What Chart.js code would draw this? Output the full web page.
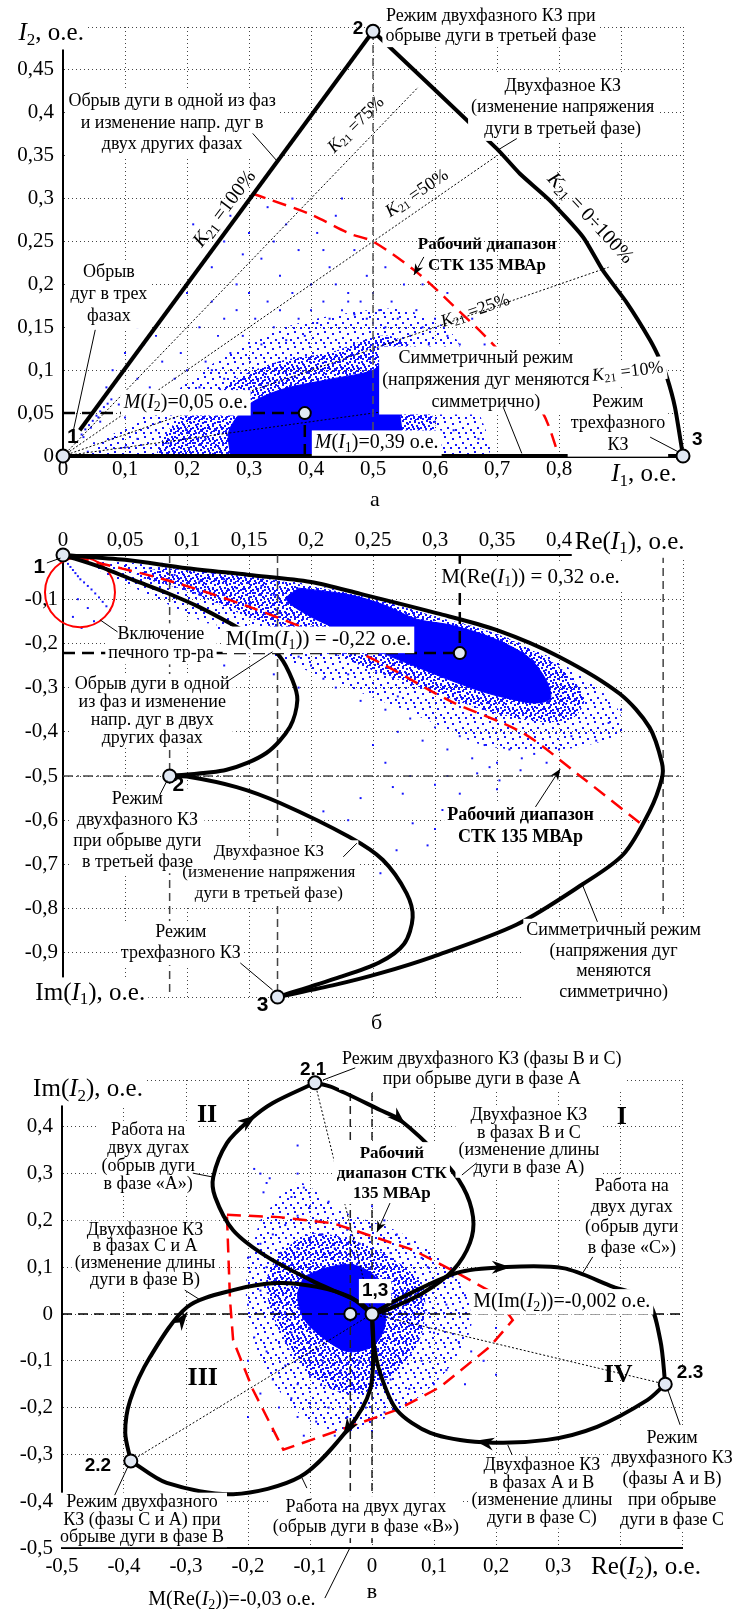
<!DOCTYPE html>
<html lang="ru">
<head>
<meta charset="UTF-8">
<title>Режимы работы ДСП: токи прямой и обратной последовательности</title>
<script src="https://cdn.jsdelivr.net/npm/chart.js@4"></script>
<style>
  html, body { margin: 0; padding: 0; background: #fff; }
  body { width: 733px; height: 1609px; position: relative; overflow: hidden; }
  canvas { position: absolute; left: 0; }
</style>
</head>
<body>
<canvas id="chartA" width="733" height="520" style="top:0"></canvas>
<canvas id="chartB" width="733" height="530" style="top:510px"></canvas>
<canvas id="chartC" width="733" height="579" style="top:1030px"></canvas>
<script>
// ---- panel а : I2 vs I1 ----
const aXTicks = ['0', '0,1', '0,2', '0,3', '0,4', '0,5', '0,6', '0,7', '0,8', '', ''];
const aYTicks = ['0', '0,05', '0,1', '0,15', '0,2', '0,25', '0,3', '0,35', '0,4', '0,45', ''];
const aK100 = [[0.027, 0.03], [0.5, 0.495]];
const aTwoPhase = [[0.5, 0.495], [0.7, 0.358], [0.737, 0.329], [0.785, 0.298], [0.839, 0.255], [0.871, 0.216], [0.91, 0.178], [0.947, 0.135], [0.963, 0.112], [0.974, 0.092], [0.987, 0.057], [1, 0]];
const aSym = [[0, 0], [1, 0]];
const aK75 = [[0, 0], [0.573, 0.43]];
const aK50 = [[0, 0], [0.7, 0.35]];
const aK25 = [[0, 0], [0.88, 0.22]];
const aK10 = [[0, 0], [0.97, 0.097]];
const aRange = [[0.305, 0.306], [0.329, 0.3], [0.398, 0.282], [0.463, 0.259], [0.5, 0.25], [0.571, 0.214], [0.624, 0.179], [0.705, 0.121], [0.774, 0.05], [0.8, 0]];
const aNodes = [[0, 0], [0.5, 0.495], [1, 0]];
const aMean = [[0.39, 0.05]];
const aMeanH = [[0, 0.05], [0.39, 0.05]];
const aMeanV = [[0.39, 0], [0.39, 0.05]];
const aGuide = [[0.5, 0], [0.5, 0.495]];
const aCore = [[0.27, 0], [0.268, 0.03], [0.3, 0.06], [0.355, 0.078], [0.435, 0.09], [0.5, 0.1], [0.525, 0.115], [0.54, 0.07], [0.535, 0]];
const aMid = [[0.15, 0], [0.17, 0.03], [0.22, 0.06], [0.28, 0.09], [0.35, 0.11], [0.43, 0.12], [0.52, 0.14], [0.57, 0.12], [0.59, 0.06], [0.6, 0]];
const aOuter = [[0.04, 0], [0.07, 0.02], [0.14, 0.05], [0.2, 0.085], [0.28, 0.125], [0.36, 0.15], [0.45, 0.165], [0.55, 0.17], [0.63, 0.14], [0.66, 0.07], [0.68, 0]];
const aDots = [
  [0.03, 0.025], [0.036, 0.031], [0.042, 0.036], [0.048, 0.041], [0.054, 0.047], [0.06, 0.052], [0.066, 0.057], [0.072, 0.061], [0.078, 0.066], [0.033, 0.022], [0.045, 0.033], [0.057, 0.045],
  [0.21, 0.27], [0.24, 0.22], [0.26, 0.25], [0.28, 0.2], [0.3, 0.26], [0.32, 0.23], [0.33, 0.29], [0.35, 0.21], [0.36, 0.27], [0.38, 0.24], [0.4, 0.2], [0.41, 0.26], [0.43, 0.22], [0.44, 0.28], [0.46, 0.19], [0.47, 0.24], [0.49, 0.21], [0.45, 0.3], [0.31, 0.305], [0.37, 0.3], [0.27, 0.28], [0.29, 0.235], [0.34, 0.25], [0.42, 0.24],
  [0.15, 0.14], [0.17, 0.17], [0.19, 0.12], [0.2, 0.19], [0.22, 0.15], [0.23, 0.11], [0.24, 0.18], [0.25, 0.14], [0.26, 0.16], [0.27, 0.12], [0.28, 0.17], [0.29, 0.14], [0.3, 0.19], [0.31, 0.16], [0.32, 0.13], [0.33, 0.18], [0.34, 0.15], [0.35, 0.17], [0.36, 0.135], [0.37, 0.19], [0.38, 0.16], [0.39, 0.14], [0.4, 0.17], [0.41, 0.155], [0.42, 0.18], [0.43, 0.16], [0.44, 0.2], [0.45, 0.17], [0.46, 0.18], [0.47, 0.165], [0.48, 0.18], [0.49, 0.16], [0.5, 0.19], [0.51, 0.17], [0.52, 0.15], [0.53, 0.18], [0.54, 0.16], [0.55, 0.2], [0.56, 0.14], [0.57, 0.17], [0.58, 0.15], [0.59, 0.13], [0.6, 0.16], [0.61, 0.12], [0.62, 0.14], [0.63, 0.1], [0.64, 0.13], [0.65, 0.09], [0.66, 0.12], [0.67, 0.1], [0.68, 0.13], [0.7, 0.11], [0.72, 0.12], [0.62, 0.19], [0.52, 0.22], [0.58, 0.2], [0.66, 0.16], [0.69, 0.08], [0.71, 0.06], [0.74, 0.09],
  [0.08, 0.1], [0.1, 0.12], [0.12, 0.09], [0.13, 0.13], [0.14, 0.08], [0.16, 0.11], [0.18, 0.09], [0.11, 0.07], [0.09, 0.06], [0.07, 0.08], [0.06, 0.04], [0.12, 0.15], [0.2, 0.1], [0.22, 0.08], [0.24, 0.1], [0.26, 0.09], [0.21, 0.06], [0.18, 0.05], [0.15, 0.03], [0.12, 0.02], [0.1, 0.01], [0.08, 0.02], [0.05, 0.015], [0.04, 0.005], [0.17, 0.015], [0.2, 0.03], [0.23, 0.02], [0.14, 0.06], [0.1, 0.045],
  [0.56, 0.1], [0.58, 0.08], [0.6, 0.1], [0.62, 0.06], [0.6, 0.04], [0.63, 0.03], [0.65, 0.05], [0.67, 0.02]
];

// ---- panel б : Im(I1) vs Re(I1) ----
const bXTicks = ['0', '0,05', '0,1', '0,15', '0,2', '0,25', '0,3', '0,35', '0,4', '', ''];
const bYTicks = ['', '-0,9', '-0,8', '-0,7', '-0,6', '-0,5', '-0,4', '-0,3', '-0,2', '-0,1', ''];
const bSym = [[0, 0], [0.05, -0.011], [0.1, -0.03], [0.15, -0.045], [0.2, -0.061], [0.24, -0.088], [0.302, -0.132], [0.35, -0.17], [0.4, -0.23], [0.449, -0.314], [0.473, -0.39], [0.483, -0.47], [0.483, -0.505], [0.473, -0.58], [0.452, -0.677], [0.419, -0.745], [0.366, -0.836], [0.298, -0.909], [0.256, -0.946], [0.22, -0.972], [0.173, -1]];
const bOpenArc = [[0, 0], [0.03, -0.027], [0.057, -0.057], [0.084, -0.086], [0.11, -0.118], [0.137, -0.158], [0.16, -0.195], [0.175, -0.23], [0.185, -0.283], [0.189, -0.328], [0.183, -0.389], [0.164, -0.448], [0.132, -0.486], [0.086, -0.5]];
const bTwoPhase = [[0.086, -0.5], [0.1, -0.501], [0.14, -0.525], [0.175, -0.561], [0.231, -0.638], [0.258, -0.69], [0.277, -0.765], [0.282, -0.82], [0.275, -0.88], [0.255, -0.922], [0.22, -0.958], [0.173, -1]];
const bRange = [[0.01, -0.005], [0.084, -0.057], [0.151, -0.118], [0.218, -0.193], [0.26, -0.25], [0.312, -0.33], [0.371, -0.403], [0.417, -0.5], [0.465, -0.606]];
const bNodes = [[0, 0], [0.086, -0.5], [0.173, -1]];
const bMean = [[0.32, -0.222]];
const bMeanH = [[0, -0.222], [0.32, -0.222]];
const bMeanV = [[0.32, 0], [0.32, -0.222]];
const bGuide1 = [[0.086, 0], [0.086, -1]];
const bGuide2 = [[0.173, 0], [0.173, -1]];
const bGuide3 = [[0.484, 0], [0.484, -1]];
const bGuideH = [[0, -0.5], [0.5, -0.5]];
const bInrush = [[0.0137, -0.084]];
const bCore = [[0.19, -0.075], [0.231, -0.09], [0.258, -0.112], [0.285, -0.145], [0.312, -0.158], [0.339, -0.18], [0.36, -0.205], [0.377, -0.235], [0.39, -0.285], [0.393, -0.325], [0.38, -0.335], [0.36, -0.325], [0.339, -0.31], [0.312, -0.283], [0.285, -0.253], [0.258, -0.222], [0.231, -0.18], [0.2, -0.14], [0.18, -0.1]];
const bMid = [[0.08, -0.03], [0.15, -0.05], [0.2, -0.072], [0.25, -0.1], [0.3, -0.14], [0.35, -0.18], [0.39, -0.235], [0.41, -0.28], [0.42, -0.33], [0.41, -0.37], [0.38, -0.375], [0.34, -0.35], [0.3, -0.31], [0.25, -0.26], [0.2, -0.2], [0.15, -0.14], [0.1, -0.08], [0.06, -0.045]];
const bOuter = [[0.02, -0.006], [0.1, -0.035], [0.2, -0.068], [0.3, -0.138], [0.36, -0.19], [0.41, -0.26], [0.445, -0.34], [0.45, -0.4], [0.4, -0.44], [0.34, -0.43], [0.3, -0.38], [0.24, -0.31], [0.18, -0.24], [0.12, -0.16], [0.07, -0.09], [0.03, -0.035]];
const bDots = [
  [0.002, -0.012], [0.004, -0.02], [0.006, -0.027], [0.008, -0.034], [0.01, -0.041], [0.012, -0.048], [0.014, -0.055], [0.017, -0.062], [0.02, -0.07], [0.023, -0.078], [0.026, -0.087], [0.029, -0.096], [0.032, -0.106], [0.035, -0.116], [0.038, -0.125], [0.012, -0.1], [0.02, -0.12], [0.008, -0.14], [0.025, -0.15], [0.015, -0.165],
  [0.04, -0.008], [0.06, -0.015], [0.08, -0.02], [0.1, -0.035], [0.12, -0.04], [0.07, -0.03], [0.09, -0.045], [0.11, -0.06], [0.13, -0.055], [0.05, -0.025], [0.14, -0.075], [0.16, -0.07], [0.17, -0.09], [0.13, -0.09], [0.15, -0.11], [0.11, -0.085],
  [0.12, -0.16], [0.14, -0.19], [0.16, -0.17], [0.18, -0.2], [0.15, -0.22], [0.19, -0.23], [0.2, -0.25], [0.21, -0.28], [0.22, -0.3], [0.23, -0.27], [0.25, -0.31], [0.24, -0.33], [0.26, -0.35], [0.27, -0.32], [0.28, -0.37], [0.27, -0.4], [0.29, -0.42], [0.3, -0.39], [0.31, -0.44], [0.32, -0.41], [0.33, -0.46], [0.34, -0.43], [0.35, -0.47], [0.36, -0.44], [0.37, -0.46], [0.38, -0.45], [0.39, -0.47], [0.4, -0.44], [0.41, -0.41], [0.43, -0.42], [0.44, -0.38], [0.45, -0.35],
  [0.25, -0.43], [0.26, -0.47], [0.28, -0.5], [0.3, -0.52], [0.266, -0.525], [0.274, -0.54], [0.269, -0.668], [0.282, -0.607], [0.256, -0.72], [0.32, -0.54], [0.334, -0.494], [0.344, -0.48], [0.306, -0.577], [0.294, -0.657], [0.352, -0.51], [0.369, -0.487], [0.24, -0.55], [0.23, -0.6], [0.21, -0.58], [0.3, -0.62], [0.31, -0.5], [0.35, -0.53], [0.33, -0.6], [0.19, -0.3], [0.17, -0.27], [0.13, -0.25]
];

// ---- panel в : Im(I2) vs Re(I2) ----
const cXTicks = ['-0,5', '-0,4', '-0,3', '-0,2', '-0,1', '0', '0,1', '0,2', '0,3', '', ''];
const cYTicks = ['-0,5', '-0,4', '-0,3', '-0,2', '-0,1', '0', '0,1', '0,2', '0,3', '0,4', ''];
const cArcA1 = [[0, 0], [-0.019, 0.024], [-0.089, 0.066], [-0.169, 0.122], [-0.224, 0.179], [-0.253, 0.25], [-0.256, 0.293], [-0.234, 0.365], [-0.197, 0.415], [-0.16, 0.451], [-0.092, 0.494]];
const cArcA2 = [[-0.092, 0.494], [-0.065, 0.485], [0.013, 0.436], [0.045, 0.415], [0.11, 0.335], [0.147, 0.271], [0.163, 0.207], [0.158, 0.152], [0.131, 0.094], [0.082, 0.045], [0.024, 0.009], [0, 0]];
const cArcB1 = [[0, 0], [-0.035, 0.036], [-0.089, 0.058], [-0.153, 0.066], [-0.224, 0.051], [-0.298, 0.015], [-0.358, -0.092], [-0.39, -0.184], [-0.398, -0.254], [-0.389, -0.314]];
const cArcB2 = [[-0.389, -0.314], [-0.331, -0.361], [-0.224, -0.385], [-0.116, -0.348], [-0.04, -0.248], [-0.003, -0.162], [0.002, -0.056], [0, 0]];
const cArcC1 = [[0, 0], [0.04, 0.03], [0.137, 0.088], [0.211, 0.1], [0.308, 0.098], [0.389, 0.058], [0.444, 0.03], [0.465, -0.056], [0.473, -0.15]];
const cArcC2 = [[0.473, -0.15], [0.444, -0.184], [0.363, -0.241], [0.282, -0.269], [0.179, -0.274], [0.094, -0.254], [0.04, -0.205], [0.013, -0.126], [0.002, -0.056], [0, 0]];
const cRange = [[-0.234, 0.212], [-0.15, 0.207], [-0.063, 0.194], [0.066, 0.137], [0.137, 0.088], [0.195, 0.045], [0.227, -0.013], [0.19, -0.07], [0.11, -0.156], [0.04, -0.205], [-0.052, -0.248], [-0.143, -0.29], [-0.192, -0.162], [-0.224, -0.056], [-0.229, 0.03], [-0.234, 0.212]];
const cNodes = [[0, 0], [-0.092, 0.494], [-0.389, -0.314], [0.473, -0.15]];
const cMean = [[-0.035, 0]];
const cGuideH = [[-0.5, 0], [0.5, 0]];
const cGuide1 = [[-0.035, 0.5], [-0.035, -0.5]];
const cGuide2 = [[0, 0.5], [0, -0.5]];
const cRayA = [[0, 0], [-0.092, 0.494]];
const cRayB = [[0, 0], [-0.389, -0.314]];
const cRayC = [[0, 0], [0.473, -0.15]];
const cCore = [[-0.11, 0.08], [-0.07, 0.1], [-0.03, 0.105], [0.005, 0.08], [0.02, 0.03], [0.02, -0.03], [0, -0.07], [-0.04, -0.08], [-0.08, -0.05], [-0.11, -0.01], [-0.12, 0.04]];
const cMid = [[-0.15, 0.13], [-0.1, 0.17], [-0.04, 0.16], [0.03, 0.12], [0.08, 0.06], [0.08, -0.04], [0.04, -0.12], [-0.02, -0.17], [-0.08, -0.15], [-0.13, -0.08], [-0.16, 0], [-0.17, 0.07]];
const cOuter = [[-0.18, 0.2], [-0.12, 0.28], [-0.05, 0.22], [0.05, 0.17], [0.14, 0.08], [0.16, -0.02], [0.12, -0.12], [0.05, -0.2], [-0.04, -0.25], [-0.11, -0.22], [-0.17, -0.12], [-0.2, 0], [-0.2, 0.1]];
const cDots = [
  [-0.12, 0.3], [-0.11, 0.27], [-0.13, 0.25], [-0.1, 0.23], [-0.12, 0.21], [-0.14, 0.19], [-0.09, 0.2], [-0.08, 0.17], [-0.1, 0.16], [-0.12, 0.14], [-0.15, 0.13], [-0.06, 0.14], [-0.04, 0.18], [-0.02, 0.15], [0, 0.19], [-0.17, 0.28], [-0.18, 0.3], [-0.175, 0.26], [-0.19, 0.31], [-0.165, 0.29], [-0.12, 0.36], [-0.07, 0.24], [-0.05, 0.27], [0, 0.23], [0.02, 0.2], [0.04, 0.17], [0.06, 0.15], [0.08, 0.12], [0.03, 0.13], [-0.16, 0.17], [-0.18, 0.15], [-0.2, 0.12], [-0.17, 0.1],
  [0.05, 0.05], [0.08, 0.03], [0.1, 0.06], [0.12, 0.02], [0.15, 0.04], [0.18, 0.01], [0.06, -0.02], [0.1, -0.04], [0.14, -0.06], [0.05, -0.08], [0.08, -0.1], [0.12, -0.12], [0.16, -0.08], [0.2, -0.03], [0.18, -0.1], [0.1, -0.15], [0.06, -0.16], [0.13, 0.08], [0.09, 0.1], [0.22, 0.02], [0.2, -0.13], [0.15, -0.15],
  [-0.02, -0.1], [-0.05, -0.12], [-0.08, -0.1], [-0.1, -0.13], [-0.12, -0.15], [-0.14, -0.11], [-0.16, -0.14], [-0.13, -0.18], [-0.1, -0.19], [-0.07, -0.2], [-0.04, -0.22], [-0.01, -0.2], [0.02, -0.21], [-0.09, -0.23], [-0.12, -0.22], [-0.15, -0.2], [-0.18, -0.17], [-0.2, -0.1], [-0.19, -0.05], [-0.17, -0.08], [-0.06, -0.26], [-0.11, -0.26], [-0.16, -0.25], [-0.2, -0.22], [0, -0.25], [0.03, -0.14], [-0.03, -0.16],
  [-0.15, 0.06], [-0.14, 0], [-0.16, 0.03], [-0.18, 0.05], [-0.13, -0.04], [-0.15, -0.06], [-0.2, 0.02]
];

const SERIF = "'Liberation Serif', 'Times New Roman', serif";
const SANS = "'Liberation Sans', Arial, sans-serif";
const BLUE = '#1414ff';
// speckle textures for the less dense parts of the clouds (tile size, dot corners)
const MID_TILE = [12, [[1, 1], [6, 0], [10, 2], [3, 4], [8, 5], [0, 7], [5, 8], [10, 8], [2, 10], [7, 11], [9, 10], [4, 6]]];
const OUTER_TILE = [15, [[2, 3], [9, 1], [5, 9], [12, 7], [0, 12], [8, 12]]];
Chart.defaults.font.family = SERIF;

const P = a => a.map(([x, y]) => ({x, y}));

function speckle(tile) {
  const [n, pts] = tile;
  const c = document.createElement('canvas');
  c.width = n; c.height = n;
  const g = c.getContext('2d');
  g.fillStyle = BLUE;
  pts.forEach(([x, y]) => g.fillRect(x, y, 2, 2));
  return g.createPattern(c, 'repeat');
}

// little markup for labels: {i:..} italic, {s:..} subscript
function runs(str) {
  const out = [], re = /\{([is]):([^}]*)\}/g;
  let last = 0, m;
  while ((m = re.exec(str))) {
    if (m.index > last) out.push({t: str.slice(last, m.index), k: ''});
    out.push({t: m[2], k: m[1]});
    last = re.lastIndex;
  }
  if (last < str.length) out.push({t: str.slice(last), k: ''});
  return out;
}
function fontOf(k, size, bold, fam) {
  return (k === 'i' ? 'italic ' : '') + (bold ? 'bold ' : '') + (k === 's' ? Math.round(size * 0.68) : size) + 'px ' + fam;
}
function measure(ctx, str, size, bold, fam) {
  return runs(str).reduce((w, r) => { ctx.font = fontOf(r.k, size, bold, fam); return w + ctx.measureText(r.t).width; }, 0);
}
function write(ctx, str, x, y, size, bold, fam) {
  runs(str).forEach(r => {
    ctx.font = fontOf(r.k, size, bold, fam);
    ctx.fillText(r.t, x, r.k === 's' ? y + size * 0.25 : y);
    x += ctx.measureText(r.t).width;
  });
}
// pass 'box' paints the white backing, pass 'text' the words
function drawLabel(ctx, x, y, l, pass) {
  const size = l.s || 18, lh = l.lh || size * 1.17, fam = l.f === 'sans' ? SANS : SERIF;
  const lines = l.t.split('\n');
  if (pass === 'box' && !l.bg) return;
  ctx.save();
  ctx.translate(x, y);
  if (l.r) ctx.rotate(l.r * Math.PI / 180);
  ctx.textBaseline = 'middle';
  ctx.textAlign = 'left';
  const widths = lines.map(t => measure(ctx, t, size, l.b, fam));
  const h = lines.length * lh;
  if (pass === 'box') {
    const w = Math.max(...widths);
    ctx.fillStyle = '#fff';
    ctx.fillRect(-w / 2 - 3, -h / 2 - 1, w + 6, h + 2);
  } else {
    ctx.fillStyle = '#000';
    lines.forEach((t, i) => write(ctx, t, -widths[i] / 2, -h / 2 + lh * (i + 0.5), size, l.b, fam));
  }
  ctx.restore();
}
function head(ctx, x, y, ang, len, half) {
  ctx.save();
  ctx.translate(x, y);
  ctx.rotate(ang);
  ctx.beginPath();
  ctx.moveTo(0, 0);
  ctx.lineTo(-len, -half);
  ctx.lineTo(-len * 0.7, 0);
  ctx.lineTo(-len, half);
  ctx.closePath();
  ctx.fill();
  ctx.restore();
}

// annotations: leader lines, arrows and texts
function notes(n) {
  return {
    id: 'notes',
    afterDatasetsDraw(chart) {
      const ctx = chart.ctx, sx = chart.scales.x, sy = chart.scales.y;
      const X = v => sx.getPixelForValue(v), Y = v => sy.getPixelForValue(v);
      const labels = n.labels || [];
      ctx.save();
      labels.forEach(l => drawLabel(ctx, X(l.x), Y(l.y), l, 'box'));
      ctx.strokeStyle = '#000';
      ctx.fillStyle = '#000';
      ctx.lineWidth = 1;
      (n.leaders || []).forEach(([a, b, c, d]) => {
        ctx.beginPath(); ctx.moveTo(X(a), Y(b)); ctx.lineTo(X(c), Y(d)); ctx.stroke();
      });
      (n.pointers || []).forEach(([a, b, c, d]) => {
        const x1 = X(a), y1 = Y(b), x2 = X(c), y2 = Y(d);
        ctx.beginPath(); ctx.moveTo(x1, y1); ctx.lineTo(x2, y2); ctx.stroke();
        head(ctx, x2, y2, Math.atan2(y2 - y1, x2 - x1), 11, 4.5);
      });
      (n.heads || []).forEach(([a, b, dx, dy]) => {
        const x0 = X(a), y0 = Y(b);
        const ang = Math.atan2(Y(b + dy) - y0, X(a + dx) - x0);
        head(ctx, x0 + 8 * Math.cos(ang), y0 + 8 * Math.sin(ang), ang, 19, 6.5);
      });
      labels.forEach(l => drawLabel(ctx, X(l.x), Y(l.y), l, 'text'));
      ctx.restore();
    }
  };
}

function axis(pos, min, max, step, labels, size, pad) {
  return {
    type: 'linear', position: pos, min, max,
    afterFit: s => { if (s.isHorizontal()) s.height = size; else s.width = size; },
    ticks: {
      stepSize: step, autoSkip: false, maxTicksLimit: 30, maxRotation: 0, minRotation: 0, padding: pad, color: '#000',
      font: {family: SERIF, size: 21},
      callback: v => labels[Math.round((v - min) / step)] || ''
    },
    grid: {color: '#444', lineWidth: 1, drawTicks: false},
    border: {display: true, color: '#000', width: 2, dash: [1, 3]}
  };
}

function curve(d, o) {
  return Object.assign({data: P(d), showLine: true, pointRadius: 0, borderColor: '#000', borderWidth: 4, tension: 0.3, fill: false, clip: false, order: 2}, o || {});
}
function thin(d, dash, color, width, order) {
  return curve(d, {borderDash: dash, borderColor: color, borderWidth: width, tension: 0, order});
}
function red(d, tension) {
  return curve(d, {borderColor: '#ff0000', borderWidth: 2.5, borderDash: [14, 8], tension, order: 3});
}
function blob(d, paint, order) {
  return {data: P(d.concat([d[0]])), showLine: true, pointRadius: 0, borderWidth: 1, borderColor: paint, backgroundColor: paint, fill: 'shape', tension: 0.3, order};
}
function dots(d) {
  return {data: P(d), pointStyle: 'rect', pointRadius: 1.4, pointBorderWidth: 0, pointBackgroundColor: BLUE, order: 6};
}
function marks(d, r) {
  return {data: P(d), pointRadius: r, pointBorderWidth: 2, pointBorderColor: '#000', pointBackgroundColor: '#e1e8f3', clip: false, order: 0};
}
function cloud(core, mid, outer, pts) {
  return [dots(pts), blob(core, '#0000ff', 7), blob(mid, speckle(MID_TILE), 8), blob(outer, speckle(OUTER_TILE), 9)];
}

function build(id, o) {
  return new Chart(document.getElementById(id), {
    type: 'scatter',
    data: {datasets: o.sets},
    options: {
      responsive: false, animation: false, events: [],
      layout: {padding: o.pad},
      plugins: {legend: {display: false}, tooltip: {enabled: false}},
      scales: {x: o.x, y: o.y}
    },
    plugins: [notes(o.notes)]
  });
}

// ---------- а ----------
build('chartA', {
  pad: {top: 27, right: 50, bottom: 0, left: 0},
  x: axis('bottom', 0, 1, 0.1, aXTicks, 64, 1),
  y: axis('left', 0, 0.5, 0.05, aYTicks, 63, 9),
  sets: [
    marks(aNodes, 6.5), marks(aMean, 6),
    thin(aMeanH, [12, 7], '#000', 2.5, 1), thin(aMeanV, [12, 7], '#000', 2.5, 1),
    curve(aK100, {tension: 0}), curve(aTwoPhase, {tension: 0.2}), curve(aSym, {tension: 0}),
    red(aRange, 0.3),
    thin(aGuide, [8, 5], '#555', 1.5, 4),
    thin(aK75, [2, 2], '#000', 1, 5), thin(aK50, [2, 2], '#000', 1, 5),
    thin(aK25, [2, 2], '#000', 1, 5), thin(aK10, [2, 2], '#000', 1, 5),
    ...cloud(aCore, aMid, aOuter, aDots)
  ],
  notes: {
    leaders: [[0.306, 0.376, 0.345, 0.344], [0.732, 0.37, 0.7, 0.356], [0.052, 0.147, 0.015, 0.024], [0.71, 0.057, 0.74, 0.003], [0.947, 0.022, 0.992, 0.005]],
    pointers: [[0.582, 0.232, 0.566, 0.211]],
    labels: [
      {x: -0.019, y: 0.492, t: '{i:I}{s:2}, о.е.', s: 25, bg: true},
      {x: 0.69, y: 0.501, t: 'Режим двухфазного КЗ при\nобрыве дуги в третьей фазе', lh: 20, bg: true},
      {x: 0.476, y: 0.498, t: '2', f: 'sans', b: true, s: 19},
      {x: 0.176, y: 0.388, t: 'Обрыв дуги в одной из фаз\nи изменение напр. дуг в\nдвух других фазах', lh: 21.5, bg: true},
      {x: 0.806, y: 0.406, t: 'Двухфазное КЗ\n(изменение напряжения\nдуги в третьей фазе)', lh: 21.5, bg: true},
      {x: 0.261, y: 0.288, t: '{i:K}{s:21} =100%', r: -53, s: 20},
      {x: 0.473, y: 0.386, t: '{i:K}{s:21} =75%', r: -45, s: 18},
      {x: 0.571, y: 0.306, t: '{i:K}{s:21} =50%', r: -34, s: 18},
      {x: 0.684, y: 0.234, t: 'Рабочий диапазон\nСТК 135 МВАр', b: true, s: 17, lh: 21},
      {x: 0.665, y: 0.169, t: '{i:K}{s:21} =25%', r: -19, s: 18},
      {x: 0.85, y: 0.277, t: '{i:K}{s:21} = 0÷100%', r: 47, s: 20},
      {x: 0.074, y: 0.188, t: 'Обрыв\nдуг в трех\nфазах', lh: 22, bg: true},
      {x: 0.016, y: 0.022, t: '1', f: 'sans', b: true, s: 21},
      {x: 0.198, y: 0.062, t: '{i:M}({i:I}{s:2})=0,05 о.е.', s: 20, bg: true},
      {x: 0.506, y: 0.015, t: '{i:M}({i:I}{s:1})=0,39 о.е.', s: 20, bg: true},
      {x: 0.682, y: 0.088, t: 'Симметричный режим\n(напряжения дуг меняются\nсимметрично)', lh: 22, bg: true},
      {x: 0.911, y: 0.098, t: '{i:K}{s:21} =10%', r: -7, s: 18, bg: true},
      {x: 0.895, y: 0.038, t: 'Режим\nтрехфазного\nКЗ', lh: 21.5, bg: true},
      {x: 1.023, y: 0.019, t: '3', f: 'sans', b: true, s: 19},
      {x: 0.937, y: -0.022, t: '{i:I}{s:1}, о.е.', s: 25},
      {x: 0.503, y: -0.051, t: 'а', s: 22}
    ]
  }
});

// ---------- б ----------
build('chartB', {
  pad: {top: 0, right: 50, bottom: 43, left: 0},
  x: axis('top', 0, 0.5, 0.05, bXTicks, 45, 2),
  y: axis('left', -1, 0, 0.1, bYTicks, 63, 5),
  sets: [
    marks(bNodes, 6.5), marks(bMean, 6),
    thin(bMeanH, [12, 7], '#000', 2.5, 1), thin(bMeanV, [12, 7], '#000', 2.5, 1),
    curve(bSym), curve(bOpenArc), curve(bTwoPhase),
    red(bRange, 0.3),
    {data: P(bInrush), pointRadius: 35, pointBorderWidth: 2, pointBorderColor: '#ff0000', pointBackgroundColor: 'rgba(0,0,0,0)', clip: false, order: 3},
    thin(bGuide1, [8, 5], '#444', 1.5, 4), thin(bGuide2, [8, 5], '#444', 1.5, 4), thin(bGuide3, [8, 5], '#444', 1.5, 4),
    thin(bGuideH, [10, 4, 2, 4], '#444', 1.5, 4),
    ...cloud(bCore, bMid, bOuter, bDots)
  ],
  notes: {
    leaders: [[-0.013, -0.018, -0.002, -0.007], [0.03, -0.147, 0.044, -0.174], [0.132, -0.287, 0.169, -0.219], [0.078, -0.543, 0.084, -0.51], [0.226, -0.683, 0.237, -0.652], [0.143, -0.923, 0.169, -0.984], [0.419, -0.747, 0.431, -0.83]],
    pointers: [[0.381, -0.57, 0.401, -0.484]],
    labels: [
      {x: 0.457, y: 0.029, t: 'Re({i:I}{s:1}), о.е.', s: 25, bg: true},
      {x: -0.019, y: -0.027, t: '1', f: 'sans', b: true, s: 21},
      {x: 0.079, y: -0.201, t: 'Включение\nпечного тр-ра', lh: 19.5, bg: true},
      {x: 0.206, y: -0.192, t: 'M(Im({i:I}{s:1})) = -0,22 о.е.', s: 21, bg: true},
      {x: 0.377, y: -0.05, t: 'M(Re({i:I}{s:1})) = 0,32 о.е.', s: 21, bg: true},
      {x: 0.072, y: -0.353, t: 'Обрыв дуги в одной\nиз фаз и изменение\nнапр. дуг в двух\nдругих фазах', lh: 18, bg: true},
      {x: 0.093, y: -0.52, t: '2', f: 'sans', b: true, s: 21},
      {x: 0.06, y: -0.624, t: 'Режим\nдвухфазного КЗ\nпри обрыве дуги\nв третьей фазе', lh: 20.7, bg: true},
      {x: 0.166, y: -0.719, t: 'Двухфазное КЗ\n(изменение напряжения\nдуги в третьей фазе)', s: 17, lh: 21, bg: true},
      {x: 0.095, y: -0.878, t: 'Режим\nтрехфазного КЗ', lh: 21, bg: true},
      {x: 0.161, y: -1.018, t: '3', f: 'sans', b: true, s: 21},
      {x: 0.022, y: -0.991, t: 'Im({i:I}{s:1}), о.е.', s: 25, bg: true},
      {x: 0.369, y: -0.613, t: 'Рабочий диапазон\nСТК 135 МВАр', b: true, s: 18, lh: 22, bg: true},
      {x: 0.444, y: -0.919, t: 'Симметричный режим\n(напряжения дуг\nменяются\nсимметрично)', lh: 20.7, bg: true},
      {x: 0.253, y: -1.059, t: 'б', s: 22}
    ]
  }
});

// ---------- в ----------
build('chartC', {
  pad: {top: 50, right: 51, bottom: 0, left: 0},
  x: axis('bottom', -0.5, 0.5, 0.1, cXTicks, 61, 6),
  y: axis('left', -0.5, 0.5, 0.1, cYTicks, 62, 9),
  sets: [
    marks(cNodes, 6.5), marks(cMean, 6),
    curve(cArcA1), curve(cArcA2), curve(cArcB1), curve(cArcB2), curve(cArcC1), curve(cArcC2),
    red(cRange, 0),
    thin(cGuideH, [10, 6], '#000', 1.5, 4), thin(cGuide1, [8, 5], '#222', 1.5, 4), thin(cGuide2, [8, 5], '#222', 1.5, 4),
    thin(cRayA, [2, 2], '#000', 1, 5), thin(cRayB, [2, 2], '#000', 1, 5), thin(cRayC, [2, 2], '#000', 1, 5),
    ...cloud(cCore, cMid, cOuter, cDots)
  ],
  notes: {
    leaders: [[-0.027, 0.526, -0.079, 0.5], [-0.289, 0.301, -0.258, 0.293], [0.169, 0.323, 0.145, 0.297], [0.356, 0.122, 0.34, 0.088], [-0.302, 0.051, -0.277, 0.03], [-0.415, -0.387, -0.394, -0.327], [-0.105, -0.372, -0.113, -0.35], [0.226, -0.301, 0.219, -0.28], [0.497, -0.237, 0.477, -0.162], [-0.076, -0.607, -0.035, -0.498]],
    pointers: [[0.029, 0.237, 0.008, 0.175]],
    heads: [[-0.197, 0.415, 0.037, 0.036], [0.045, 0.415, 0.065, -0.08], [-0.305, -0.009, 0.06, 0.107], [-0.04, -0.248, -0.037, -0.086], [0.211, 0.1, 0.1, 0], [0.179, -0.274, -0.085, 0.02]],
    labels: [
      {x: -0.458, y: 0.479, t: 'Im({i:I}{s:2}), о.е.', s: 25, bg: true},
      {x: -0.095, y: 0.521, t: '2.1', f: 'sans', b: true, s: 19},
      {x: 0.177, y: 0.524, t: 'Режим двухфазного КЗ (фазы В и С)\nпри обрыве дуги в фазе А', lh: 20, bg: true},
      {x: -0.266, y: 0.425, t: 'II', b: true, s: 26},
      {x: 0.403, y: 0.421, t: 'I', b: true, s: 26},
      {x: -0.361, y: 0.335, t: 'Работа на\nдвух дугах\n(обрыв дуги\nв фазе «А»)', lh: 17.7, bg: true},
      {x: 0.032, y: 0.301, t: 'Рабочий\nдиапазон СТК\n135 МВАр', b: true, s: 17, lh: 20, bg: true},
      {x: 0.253, y: 0.368, t: 'Двухфазное КЗ\nв фазах В и С\n(изменение длины\nдуги в фазе А)', lh: 17.5, bg: true},
      {x: 0.419, y: 0.207, t: 'Работа на\nдвух дугах\n(обрыв дуги\nв фазе «С»)', lh: 20.7, bg: true},
      {x: -0.366, y: 0.126, t: 'Двухфазное КЗ\nв фазах С и А\n(изменение длины\nдуги в фазе В)', lh: 16.7, bg: true},
      {x: 0.005, y: 0.049, t: '1,3', f: 'sans', b: true, s: 19, bg: true},
      {x: 0.306, y: 0.026, t: 'M(Im({i:I}{s:2}))=-0,002 о.е.', s: 20, bg: true},
      {x: -0.273, y: -0.137, t: 'III', b: true, s: 26},
      {x: 0.397, y: -0.132, t: 'IV', b: true, s: 26},
      {x: -0.442, y: -0.325, t: '2.2', f: 'sans', b: true, s: 19},
      {x: 0.513, y: -0.126, t: '2.3', f: 'sans', b: true, s: 19},
      {x: -0.371, y: -0.44, t: 'Режим двухфазного\nКЗ (фазы С и А) при\nобрыве дуги в фазе В', lh: 17.5, bg: true},
      {x: -0.01, y: -0.434, t: 'Работа на двух дугах\n(обрыв дуги в фазе «В»)', lh: 20, bg: true},
      {x: 0.274, y: -0.38, t: 'Двухфазное КЗ\nв фазах А и В\n(изменение длины\nдуги в фазе С)', lh: 17.7, bg: true},
      {x: 0.484, y: -0.353, t: 'Режим\nдвухфазного КЗ\n(фазы А и В)\nпри обрыве\nдуги в фазе С', lh: 20.7, bg: true},
      {x: 0.442, y: -0.541, t: 'Re({i:I}{s:2}), о.е.', s: 25, bg: true},
      {x: 0, y: -0.594, t: 'в', s: 22},
      {x: -0.226, y: -0.611, t: 'M(Re({i:I}{s:2}))=-0,03 о.е.', s: 20}
    ]
  }
});
</script>
</body>
</html>
